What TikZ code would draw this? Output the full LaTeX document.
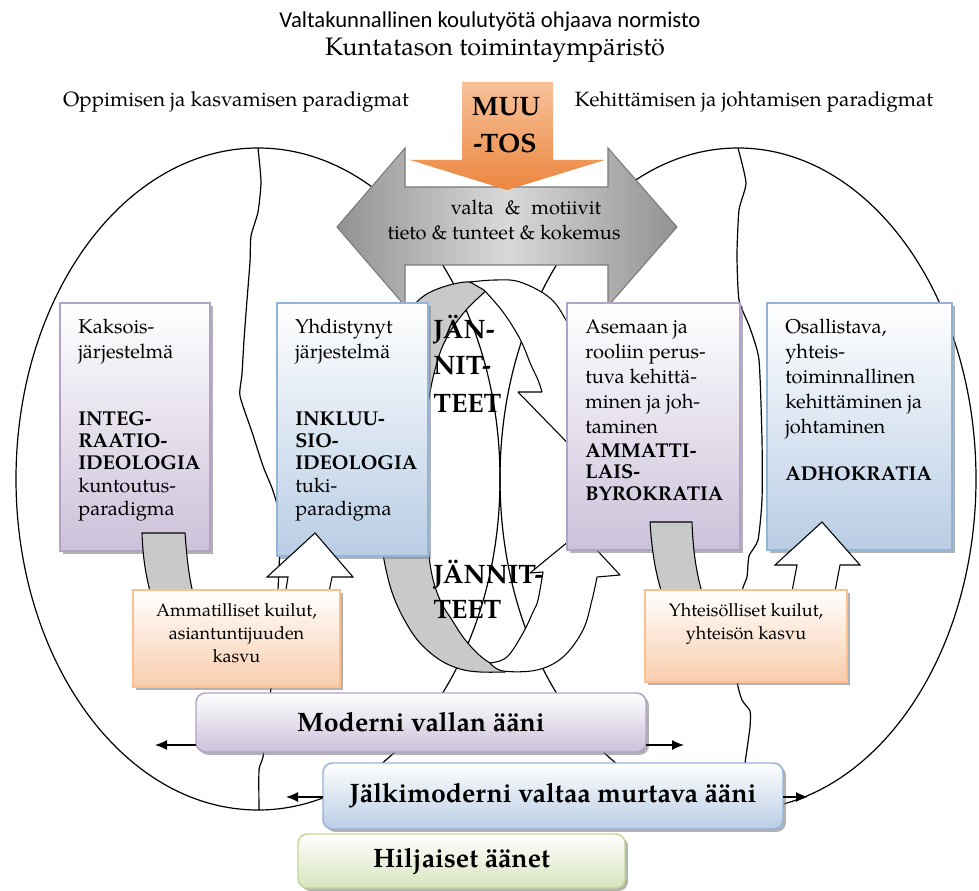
\documentclass[tikz,border=0pt]{standalone}
\usepackage{fontspec}
\setmainfont{TeX Gyre Pagella}
\newfontfamily\titlesans{Carlito}
\usetikzlibrary{shadows,arrows.meta}

\definecolor{purpleEdge}{HTML}{B3A2C7}
\definecolor{purpleLow}{HTML}{CCC1DA}
\definecolor{blueEdge}{HTML}{95B3D7}
\definecolor{blueLow}{HTML}{B9CDE5}
\definecolor{orangeEdge}{HTML}{FAC090}
\definecolor{orangeLow}{HTML}{F9CDAC}
\definecolor{greenEdge}{HTML}{C3D69B}
\definecolor{greenLow}{HTML}{D7E4BD}
\definecolor{bandGray}{HTML}{C9C9C9}
\definecolor{arrowDark}{HTML}{929292}
\definecolor{arrowLight}{HTML}{D9D9D9}
\definecolor{arrowEdge}{HTML}{7A7A7A}
\definecolor{muutosTop}{HTML}{F7C29A}
\definecolor{muutosLow}{HTML}{EC863F}

\tikzset{
  boxsize/.style 2 args={minimum width=#1*0.75pt, minimum height=#2*0.75pt},
  panel/.style={draw=#1Edge, line width=1.1pt, top color=white, bottom color=#1Low,
    inner sep=0pt, outer sep=0pt, anchor=north west,
    drop shadow={shadow xshift=2.2pt, shadow yshift=-2.2pt, fill=black!50, opacity=0.6}},
  boxtext/.style={font=\fontsize{15}{18.75}\selectfont, align=left, inner sep=0pt, anchor=north west},
  gaptext/.style={font=\fontsize{13.5}{17.25}\selectfont, align=center, inner sep=0pt, anchor=north},
  voicetext/.style={font=\bfseries\fontsize{20}{24}\selectfont},
  bigbold/.style={font=\bfseries\fontsize{20}{24}\selectfont, inner sep=0pt, anchor=base west},
  crackline/.style={draw=black, line width=0.9pt, line join=round},
  ringgray/.style={fill=bandGray, draw=black, line width=0.8pt, line join=round},
  ringwhite/.style={fill=white, draw=black, line width=0.8pt, line join=round},
  stripgray/.style={fill=bandGray, draw=black, line width=0.8pt, line join=round},
  uparrow/.style={fill=white, draw=black, line width=0.8pt, line join=miter},
  sidearrow/.style={draw=black, line width=0.9pt, -{Latex[length=9pt,width=7.5pt]}}
}

\begin{document}
\begin{tikzpicture}[x=0.75pt, y=-0.75pt]
\useasboundingbox (0,0) rectangle (979,891);
\fill[white] (0,0) rectangle (979,891);

% two paradigm fields, each split by a crack line
\draw[crackline] (258,479) ellipse [x radius=181.5pt, y radius=248.25pt];
\draw[crackline] (738,479) ellipse [x radius=178.5pt, y radius=248.25pt];
\draw[crackline] plot[smooth, tension=0.35] coordinates {(258,148) (261,182) (258,212) (251,236) (250,262) (247,300) (244,340) (242,374) (240,396) (252,432) (263,466) (272,488) (277,505) (280,536) (279,570) (278,590) (276,640) (271,688) (266,730) (263,757) (259,770) (259,810)};
\draw[crackline] plot[smooth, tension=0.35] coordinates {(738,148) (746,183) (739,210) (737,255) (739,300) (750,328) (759,360) (762,440) (762,500) (758,540) (749,556) (747,577) (742,592) (740,640) (737,680) (742,700) (750,711) (750,727) (745,763) (741,790) (738,810)};

% tension ring: grey band on the left, two white arrows on the right
\filldraw[ringgray] plot[smooth, tension=0.6] coordinates {(487,290) (470,282) (443,287) (420,299) (400,325) (386,368) (379,420) (378,480) (380,530) (385,565) (393,595) (405,621) (420,643) (440,660) (460,669) (480,672) (505,672)}
  -- plot[smooth, tension=0.6] coordinates {(507,670) (490,663) (476,652) (463,637) (452,620) (440,600) (431,570) (426,520) (425,460) (428,405) (438,359) (450,332) (467,309) (487,290)} -- cycle;
\filldraw[ringwhite] plot[smooth, tension=0.6] coordinates {(470,282) (495,280) (520,282) (550,298) (567,322) (581,352) (590,385)}
  -- (614,398) -- (588,464) -- (518,392) -- (542,392)
  -- plot[smooth, tension=0.6] coordinates {(542,392) (538,380) (531,365) (520,339) (503,312) (484,290)} -- cycle;
\filldraw[ringwhite] plot[smooth, tension=0.6] coordinates {(490,663) (503,671) (537,670) (563,657) (583,630) (592,600) (597,577)}
  -- (620,575) -- (580,532) -- (530,573) -- (543,572)
  -- plot[smooth, tension=0.6] coordinates {(543,572) (538,600) (533,612) (523,633) (507,657) (490,663)} -- cycle;

% double arrow of power, motives and knowledge
\shadedraw[left color=arrowDark, right color=arrowDark, middle color=arrowLight, draw=arrowEdge, line width=0.8pt, line join=miter]
  (337,227) -- (405,148) -- (405,187) -- (608,187) -- (608,148) -- (677,227) -- (608,306) -- (608,265) -- (405,265) -- (405,306) -- cycle;
\node[font=\fontsize{15}{18}\selectfont, inner sep=0pt] (valta) at (526,207) {valta\hspace{0.55em}\&\hspace{0.55em}motiivit};
\node[font=\fontsize{15}{18}\selectfont, inner sep=0pt] (tieto) at (504,232) {tieto \& tunteet \& kokemus};

% change arrow
\shade[top color=muutosTop, bottom color=muutosLow]
  (462,82) -- (553,82) -- (553,160) -- (605,160) -- (507,190) -- (410,160) -- (462,160) -- cycle;
\node[bigbold, anchor=base] (muu) at (506,116) {MUU};
\node[bigbold, anchor=base] (tos) at (505,153) {-TOS};

% paradigm boxes
\node[panel=purple, boxsize={150}{248}] (kaksois) at (60,303) {};
\node[panel=blue, boxsize={151}{253}] (yhdist) at (277,303) {};
\node[panel=purple, boxsize={173}{247}] (asemaan) at (567,303) {};
\node[panel=blue, boxsize={185}{247}] (osall) at (767,303) {};

% growth arrows between boxes and gaps
\filldraw[stripgray] (142,533) -- (185,533) .. controls (187,560) and (189,578) .. (195,602) -- (153,602) .. controls (146,578) and (143,560) .. cycle;
\filldraw[stripgray] (650,522) -- (692,522) .. controls (693,553) and (697,578) .. (705,602) -- (665,602) .. controls (656,578) and (652,553) .. cycle;
\filldraw[uparrow] (315,533) -- (353,577) -- (332,577) -- (327,602) -- (284,602) -- (288,577) -- (267,577) -- cycle;
\filldraw[uparrow] (822,522) -- (860,565) -- (840,565) -- (833,602) -- (790,602) -- (797,565) -- (775,565) -- cycle;

% gap boxes
\node[panel=orange, boxsize={207}{97}] (kuilutA) at (133,590) {};
\node[panel=orange, boxsize={202}{92}] (kuilutB) at (645,590) {};
\node[gaptext] (kuilutAT) at (236.5,603) {Ammatilliset kuilut,\\asiantuntijuuden\\kasvu};
\node[gaptext] (kuilutBT) at (746,603) {Yhteisölliset kuilut,\\yhteisön kasvu};

% voices
\node[panel=purple, rounded corners=7pt, boxsize={450}{59}, voicetext] (moderni) at (196,693) {Moderni vallan ääni};
\node[panel=blue, rounded corners=7pt, boxsize={460}{66}, voicetext] (jalki) at (323,763) {Jälkimoderni valtaa murtava ääni};
\node[panel=green, rounded corners=7pt, boxsize={327}{54}, voicetext] (hilj) at (298,834) {Hiljaiset äänet};
\coordinate (modL) at (155,745);
\coordinate (modR) at (684,745);
\coordinate (jalL) at (286,797);
\coordinate (jalR) at (808,797);
\draw[sidearrow] (moderni.west |- modL) -- (modL);
\draw[sidearrow] (moderni.east |- modR) -- (modR);
\draw[sidearrow] (jalki.west |- jalL) -- (jalL);
\draw[sidearrow] (jalki.east |- jalR) -- (jalR);

% box texts
\node[boxtext] (kaksoisT) at (78,319) {Kaksois-\\järjestelmä\\[31.5pt]\textbf{INTEG-}\\[-2.25pt]\textbf{RAATIO-}\\[-2.25pt]\textbf{IDEOLOGIA}\\[-1.5pt]kuntoutus-\\[-1.5pt]paradigma};
\node[boxtext] (yhdistT) at (295,319) {Yhdistynyt\\järjestelmä\\[31.5pt]\textbf{INKLUU-}\\[-2.25pt]\textbf{SIO-}\\[-2.25pt]\textbf{IDEOLOGIA}\\[-1.5pt]tuki-\\[-1.5pt]paradigma};
\node[boxtext] (asemaanT) at (585,319) {Asemaan ja\\rooliin perus-\\tuva kehittä-\\minen ja joh-\\taminen\\[-0.75pt]\textbf{AMMATTI-}\\[-3pt]\textbf{LAIS-}\\[-2.25pt]\textbf{BYROKRATIA}};
\node[boxtext] (osallT) at (785,319) {Osallistava,\\yhteis-\\toiminnallinen\\kehittäminen ja\\johtaminen\\[16.5pt]\textbf{ADHOKRATIA}};

% tension labels
\node[bigbold] (jan1) at (433,339) {JÄN-};
\node[bigbold] (jan2) at (433,375) {NIT-};
\node[bigbold] (jan3) at (433,412) {TEET};
\node[bigbold] (jann1) at (433,583) {JÄNNIT-};
\node[bigbold] (jann2) at (433,618) {TEET};

% headings
\node[font=\titlesans\fontsize{17}{20}\selectfont, inner sep=0pt] (title) at (490,22) {Valtakunnallinen koulutyötä ohjaava normisto};
\node[font=\fontsize{18.9}{22}\selectfont, inner sep=0pt] (level) at (495,50) {Kuntatason toimintaympäristö};
\node[font=\fontsize{15.5}{18}\selectfont, inner sep=0pt] (leftpar) at (236,102) {Oppimisen ja kasvamisen paradigmat};
\node[font=\fontsize{15.5}{18}\selectfont, inner sep=0pt] (rightpar) at (754,102) {Kehittämisen ja johtamisen paradigmat};
\end{tikzpicture}
\end{document}
